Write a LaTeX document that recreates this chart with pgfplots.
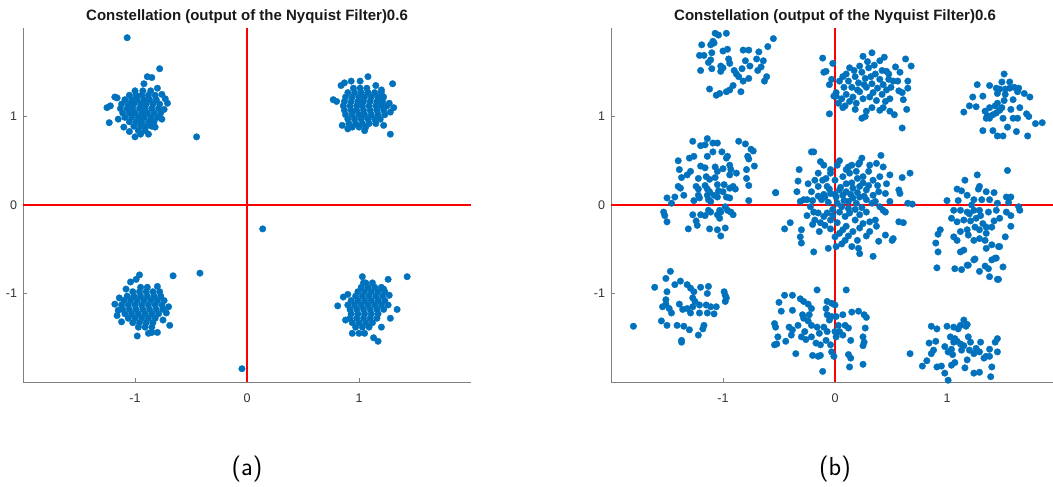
\documentclass[border=0pt]{standalone}
\usepackage{pgfplots}
\pgfplotsset{compat=1.18}
\usepackage{fontspec}
\setmainfont{Liberation Sans}
\definecolor{mblue}{RGB}{0,114,189}
\definecolor{axgray}{RGB}{128,128,128}
\definecolor{txtgray}{RGB}{50,50,50}
\pgfplotsset{
 constel/.style={
  scale only axis, width=448pt, height=354pt,
  xmin=-2,xmax=2,ymin=-2,ymax=2,
  axis x line=bottom, axis y line=left,
  axis line style={draw=axgray, line width=0.9pt, -},
  x axis line style={-}, y axis line style={-},
  xtick={-1,0,1}, ytick={-1,0,1},
  xticklabels={-1,0,1}, yticklabels={-1,0,1},
  tick align=inside, major tick length=4pt,
  tick style={draw=axgray, line width=0.9pt},
  ticklabel style={font=\fontsize{12.5}{14}\selectfont, text=txtgray},
  xticklabel style={yshift=-8pt},
  yticklabel style={xshift=-2.5pt},
  title style={at={(0.5,1)}, anchor=base, yshift=1.5pt, font=\bfseries\fontsize{15}{17}\selectfont, text=black!90},
  clip=false,
 },
 dots/.style={only marks, mark=*, mark size=3.3pt, color=mblue, mark options={solid, fill=mblue, draw=mblue, line width=0.3pt}},
 redl/.style={red, line width=2.8pt, no marks},
}
\begin{document}
\begin{tikzpicture}
\useasboundingbox (0,0) rectangle (1053pt,487pt);
% ---------------- (a)
\begin{axis}[constel, at={(23pt,105pt)}, anchor=south west,
  title={Constellation (output of the Nyquist Filter)0.6}]
\addplot[dots] coordinates {
(-1.00,1.29)(-0.93,1.29)(-0.86,1.29)
(-1.05,1.24)(-0.99,1.24)(-0.94,1.24)(-0.88,1.24)(-0.82,1.24)
(-1.09,1.19)(-1.03,1.19)(-0.98,1.19)(-0.92,1.19)(-0.87,1.19)(-0.81,1.19)
(-1.12,1.14)(-1.06,1.14)(-1.01,1.14)(-0.95,1.14)(-0.90,1.14)(-0.84,1.14)(-0.78,1.14)
(-1.13,1.09)(-1.07,1.09)(-1.02,1.09)(-0.96,1.09)(-0.91,1.09)(-0.85,1.09)(-0.79,1.09)
(-1.11,1.04)(-1.05,1.04)(-1.00,1.04)(-0.94,1.04)(-0.89,1.04)(-0.83,1.04)(-0.77,1.04)
(-1.09,0.99)(-1.03,0.99)(-0.97,0.99)(-0.92,0.99)(-0.86,0.99)(-0.80,0.99)
(-1.05,0.94)(-0.99,0.94)(-0.94,0.94)(-0.88,0.94)(-0.83,0.94)
(-1.01,0.89)(-0.95,0.89)(-0.90,0.89)(-0.85,0.89)
(-0.97,0.84)(-0.91,0.84)
(-1.22,1.12)(-1.25,1.10)(-1.18,1.22)(-1.16,1.21)(-1.23,0.93)(-1.00,0.77)(-0.95,0.80)(-1.05,0.83)
(-0.88,0.80)(-0.71,1.15)(-0.74,1.08)(-0.76,1.25)(-0.80,1.32)(-0.89,1.45)(-0.85,1.44)(-0.92,1.37)
(-0.78,1.54)(-0.45,0.77)(-1.07,1.89)(-1.15,0.97)(-0.76,0.97)(-1.10,0.88)(-0.73,1.20)(-0.82,0.88)
% TR
(0.95,1.32)(1.01,1.32)(1.07,1.32)
(0.90,1.27)(0.96,1.27)(1.02,1.27)(1.08,1.27)(1.14,1.27)(1.20,1.27)
(0.88,1.22)(0.94,1.22)(1.00,1.22)(1.05,1.22)(1.11,1.22)(1.17,1.22)(1.22,1.22)
(0.87,1.17)(0.93,1.17)(0.99,1.17)(1.04,1.17)(1.10,1.17)(1.16,1.17)(1.21,1.17)
(0.86,1.12)(0.92,1.12)(0.98,1.12)(1.03,1.12)(1.09,1.12)(1.15,1.12)(1.20,1.12)(1.25,1.12)
(0.87,1.07)(0.93,1.07)(0.98,1.07)(1.04,1.07)(1.10,1.07)(1.16,1.07)(1.22,1.07)
(0.88,1.02)(0.94,1.02)(1.00,1.02)(1.05,1.02)(1.11,1.02)(1.17,1.02)(1.23,1.02)
(0.90,0.97)(0.96,0.97)(1.02,0.97)(1.08,0.97)(1.14,0.97)(1.19,0.97)
(0.91,0.92)(0.97,0.92)(1.03,0.92)(1.09,0.92)(1.15,0.92)
(0.94,0.88)(1.00,0.88)(1.06,0.88)
(0.77,1.19)(0.80,1.17)(0.84,1.35)(0.87,1.38)(0.93,1.40)(1.08,1.45)(1.01,1.40)(1.30,1.37)
(1.28,0.80)(1.22,0.90)(1.28,1.05)(1.31,1.10)(1.27,1.15)(0.85,0.90)(0.90,0.86)(1.05,0.84)(1.20,1.30)(1.15,1.35)
% BL
(-0.95,-0.93)(-0.89,-0.93)
(-1.02,-0.98)(-0.96,-0.98)(-0.90,-0.98)(-0.84,-0.98)(-0.78,-0.98)
(-1.07,-1.03)(-1.01,-1.03)(-0.95,-1.03)(-0.89,-1.03)(-0.83,-1.03)(-0.77,-1.03)
(-1.10,-1.08)(-1.04,-1.08)(-0.98,-1.08)(-0.92,-1.08)(-0.86,-1.08)(-0.80,-1.08)(-0.74,-1.08)
(-1.12,-1.13)(-1.06,-1.13)(-1.00,-1.13)(-0.94,-1.13)(-0.88,-1.13)(-0.82,-1.13)(-0.76,-1.13)
(-1.11,-1.18)(-1.05,-1.18)(-0.99,-1.18)(-0.93,-1.18)(-0.87,-1.18)(-0.81,-1.18)(-0.75,-1.18)
(-1.09,-1.23)(-1.03,-1.23)(-0.97,-1.23)(-0.91,-1.23)(-0.85,-1.23)(-0.79,-1.23)
(-1.06,-1.28)(-1.00,-1.28)(-0.94,-1.28)(-0.88,-1.28)(-0.82,-1.28)
(-1.02,-1.33)(-0.96,-1.33)(-0.90,-1.33)(-0.84,-1.33)
(-0.97,-1.38)(-0.91,-1.38)(-0.85,-1.38)
(-0.66,-0.80)(-0.42,-0.77)(-0.96,-0.79)(-0.99,-0.84)(-1.04,-0.87)(-1.18,-1.12)(-1.15,-1.19)(-1.16,-1.25)
(-1.12,-1.32)(-0.98,-1.48)(-0.88,-1.45)(-0.85,-1.44)(-0.80,-1.44)(-0.69,-1.36)(-0.70,-1.15)(-0.72,-1.22)
(-0.75,-1.30)(-0.80,-0.92)(-1.08,-0.95)(-1.14,-1.05)
% BR
(1.06,-0.88)(1.12,-0.88)
(1.02,-0.93)(1.08,-0.93)(1.14,-0.93)(1.20,-0.93)
(0.99,-0.98)(1.05,-0.98)(1.11,-0.98)(1.17,-0.98)(1.23,-0.98)
(0.97,-1.03)(1.03,-1.03)(1.09,-1.03)(1.15,-1.03)(1.21,-1.03)
(0.93,-1.08)(0.99,-1.08)(1.05,-1.08)(1.11,-1.08)(1.17,-1.08)(1.23,-1.08)
(0.90,-1.13)(0.96,-1.13)(1.02,-1.13)(1.08,-1.13)(1.14,-1.13)(1.20,-1.13)(1.26,-1.13)
(0.92,-1.18)(0.98,-1.18)(1.04,-1.18)(1.10,-1.18)(1.16,-1.18)(1.22,-1.18)
(0.93,-1.23)(0.99,-1.23)(1.05,-1.23)(1.11,-1.23)(1.17,-1.23)
(0.92,-1.28)(0.98,-1.28)(1.04,-1.28)(1.10,-1.28)(1.16,-1.28)
(0.94,-1.33)(1.00,-1.33)(1.06,-1.33)(1.12,-1.33)
(0.97,-1.38)(1.03,-1.38)(1.09,-1.38)
(1.43,-0.81)(1.26,-0.84)(0.81,-1.14)(0.86,-1.04)(0.90,-1.01)(1.34,-1.18)(1.28,-1.28)(1.17,-1.54)
(1.13,-1.50)(0.94,-1.45)(1.03,-0.81)(1.04,-0.88)(1.00,-1.45)(1.05,-1.45)(1.22,-0.95)(1.27,-1.02)
(0.88,-1.30)(1.20,-1.38)
% singles
(0.14,-0.27)(-0.045,-1.85)
};
\addplot[redl] coordinates {(-2,0) (2,0)};
\addplot[redl] coordinates {(0,-2) (0,2)};
\end{axis}
% ---------------- (b)
\begin{axis}[constel, at={(611pt,105pt)}, anchor=south west,
  title={Constellation (output of the Nyquist Filter)0.6}]
\addplot[dots] coordinates {
% top-left
(-1.07,1.94)(-1.04,1.92)(-0.97,1.94)(-1.09,1.85)(-1.19,1.81)(-1.11,1.81)(-1.08,1.83)(-0.60,1.79)
(-0.55,1.88)(-1.00,1.74)(-0.96,1.76)(-0.82,1.75)(-0.77,1.75)(-0.68,1.73)(-1.21,1.69)(-1.17,1.69)
(-1.10,1.72)(-1.11,1.64)(-1.13,1.61)(-0.95,1.65)(-0.94,1.60)(-0.80,1.63)(-0.70,1.65)(-0.64,1.63)
(-1.20,1.52)(-1.10,1.54)(-1.02,1.57)(-1.02,1.51)(-1.00,1.55)(-0.90,1.52)(-0.88,1.48)(-0.83,1.54)
(-0.76,1.57)(-0.69,1.52)(-0.66,1.56)(-0.86,1.45)(-0.77,1.43)(-0.82,1.40)(-0.61,1.45)(-0.63,1.40)
(-1.12,1.31)(-0.91,1.35)(-0.97,1.28)(-0.94,1.30)(-1.06,1.24)(-1.03,1.26)(-0.84,1.28)
% top-middle
(-0.11,1.66)(-0.02,1.60)(-0.10,1.50)(-0.08,1.51)(-0.03,1.42)(-0.05,1.36)(-0.01,1.23)(-0.05,1.03)
(0.25,1.68)(0.33,1.72)(0.44,1.67)(0.40,1.63)(0.63,1.65)(0.68,1.57)(0.54,1.56)(0.13,1.55)
(0.07,1.45)(0.46,1.51)(0.48,1.42)(0.65,1.40)(0.65,1.32)(0.57,1.29)(0.60,1.27)(0.61,1.19)
(0.49,1.20)(0.64,1.08)(0.60,0.87)(0.53,1.02)(0.49,1.06)(0.43,1.10)(0.40,1.07)(0.33,1.10)
(0.27,1.00)(0.24,0.98)(0.28,1.06)(0.18,1.08)(0.09,1.12)(0.07,1.10)(0.03,1.15)(0.01,1.23)(0.01,1.27)
(0.12,1.40)(0.18,1.45)(0.24,1.50)(0.30,1.55)(0.36,1.48)(0.40,1.42)(0.15,1.33)(0.21,1.38)
(0.27,1.43)(0.33,1.37)(0.38,1.32)(0.43,1.36)(0.10,1.25)(0.16,1.22)(0.22,1.28)(0.28,1.33)
(0.34,1.27)(0.42,1.25)(0.46,1.30)(0.13,1.17)(0.19,1.15)(0.25,1.20)(0.31,1.22)(0.37,1.18)
(0.45,1.17)(0.08,1.33)(0.20,1.30)(0.26,1.36)(0.32,1.45)(0.35,1.58)(0.29,1.62)(0.22,1.57)
(0.17,1.52)(0.42,1.52)(0.48,1.48)(0.52,1.40)(0.50,1.33)(0.56,1.40)(0.58,1.50)(0.06,1.20)
(0.04,1.40)(0.10,1.48)
% top-right
(1.51,1.48)(1.49,1.39)(1.56,1.39)(1.27,1.36)(1.38,1.35)(1.44,1.32)(1.47,1.31)(1.52,1.31)
(1.56,1.32)(1.60,1.33)(1.64,1.32)(1.63,1.28)(1.23,1.22)(1.32,1.23)(1.45,1.26)(1.52,1.25)
(1.69,1.26)(1.74,1.22)(1.59,1.19)(1.51,1.18)(1.45,1.15)(1.43,1.12)(1.38,1.10)(1.49,1.10)
(1.57,1.08)(1.65,1.10)(1.20,1.12)(1.26,1.11)(1.15,1.05)(1.34,1.06)(1.36,1.01)(1.38,0.98)
(1.41,1.02)(1.44,1.04)(1.47,1.07)(1.50,0.98)(1.59,0.98)(1.63,0.98)(1.71,1.03)(1.73,1.00)
(1.79,0.92)(1.85,0.93)(1.32,0.84)(1.41,0.84)(1.54,0.88)(1.62,0.83)(1.45,0.78)(1.50,0.78)
(1.72,0.78)(1.35,0.98)
% middle-left
(-1.27,0.72)(-1.14,0.75)(-1.09,0.70)(-1.05,0.70)(-1.20,0.67)(-1.16,0.68)(-0.86,0.72)(-0.80,0.69)
(-0.75,0.63)(-0.73,0.61)(-1.30,0.53)(-1.26,0.55)(-1.14,0.55)(-1.09,0.60)(-1.01,0.60)(-0.96,0.55)
(-0.97,0.53)(-1.40,0.50)(-1.20,0.44)(-0.78,0.55)(-0.77,0.52)(-0.72,0.44)(-1.39,0.40)(-1.29,0.38)
(-1.32,0.34)(-1.37,0.31)(-1.16,0.42)(-1.07,0.43)(-1.05,0.38)(-1.07,0.31)(-1.00,0.41)(-0.94,0.45)
(-0.93,0.40)(-0.94,0.34)(-0.88,0.36)(-0.79,0.40)(-0.79,0.30)(-1.22,0.30)(-1.15,0.32)(-1.12,0.29)
(-1.05,0.23)(-0.77,0.22)(-1.40,0.21)(-1.38,0.19)(-1.35,0.11)(-1.24,0.21)(-1.22,0.18)(-1.16,0.22)
(-1.14,0.18)(-1.12,0.15)(-1.14,0.11)(-1.08,0.11)(-1.05,0.09)(-0.99,0.23)(-0.94,0.19)(-0.91,0.21)
(-0.89,0.18)(-1.00,0.15)(-1.04,0.16)(-1.22,0.11)(-1.21,0.08)(-1.50,0.08)(-1.46,0.02)(-1.43,0.09)
(-0.97,0.09)(-0.94,0.08)(-1.26,0.05)(-0.77,0.05)(-1.13,0.06)(-1.11,0.04)(-0.53,0.14)
(-1.53,-0.08)(-1.52,-0.12)(-1.50,-0.19)(-1.27,-0.11)(-1.20,-0.11)(-1.16,-0.12)(-1.24,-0.18)(-1.23,-0.23)
(-1.03,-0.06)(-1.02,-0.08)(-1.05,-0.11)(-0.98,-0.02)(-0.96,-0.06)(-0.93,-0.08)(-0.91,-0.11)(-1.03,-0.15)
(-1.13,-0.06)(-1.11,-0.08)(-1.31,-0.27)(-1.12,-0.27)(-1.05,-0.28)(-0.98,-0.26)(-1.02,-0.35)
% middle-center
(-0.21,0.60)(-0.19,0.60)(0.04,0.50)(0.02,0.45)(0.12,0.43)(-0.13,0.49)(-0.10,0.45)(-0.04,0.40)
(-0.04,0.36)(0.22,0.48)(0.21,0.46)(0.24,0.53)(0.31,0.45)(0.37,0.47)(0.41,0.56)(0.43,0.43)
(-0.32,0.40)(-0.33,0.27)(-0.24,0.24)(0.49,0.34)(0.60,0.31)(0.67,0.36)(-0.15,0.36)(-0.11,0.28)
(-0.15,0.21)(0.07,0.32)(0.13,0.36)(0.19,0.38)(0.25,0.32)(0.34,0.28)(0.40,0.32)(0.46,0.24)
(0.10,0.24)(0.16,0.19)(0.22,0.21)(0.28,0.17)(0.04,0.17)(0.07,0.11)(0.01,0.09)(-0.07,0.21)
(-0.04,0.13)(-0.09,0.09)(-0.12,0.06)(-0.21,0.15)(-0.25,0.06)(-0.34,0.15)(-0.53,0.14)(-0.31,0.04)
(-0.28,0.06)(0.34,0.11)(0.39,0.15)(0.45,0.13)(0.36,0.04)(0.57,0.17)(0.58,0.13)(0.49,0.04)
(0.65,0.02)(0.69,0.01)(0.16,0.08)(0.22,0.09)(0.28,0.06)(0.19,0.02)(0.12,0.04)(0.43,-0.06)
(0.45,-0.08)(-0.19,-0.08)(-0.15,-0.09)(-0.10,-0.13)(-0.18,-0.17)(-0.13,-0.20)(-0.07,-0.09)(-0.04,-0.17)
(-0.09,-0.23)(-0.04,-0.27)(0.04,-0.08)(0.09,-0.13)(0.13,-0.09)(0.18,-0.17)(0.22,-0.11)(0.25,-0.21)
(0.10,-0.24)(0.16,-0.30)(0.22,-0.26)(0.31,-0.19)(0.36,-0.17)(0.37,-0.24)(0.31,-0.30)(0.04,-0.32)
(0.00,-0.36)(0.09,-0.40)(-0.40,-0.20)(-0.45,-0.27)(-0.30,-0.28)(-0.31,-0.36)(-0.30,-0.43)(-0.19,-0.53)
(-0.06,-0.49)(0.15,-0.47)(0.22,-0.55)(0.21,-0.49)(0.34,-0.58)(0.52,-0.38)(0.51,-0.40)(0.45,-0.34)
(0.39,-0.41)(0.57,-0.19)(0.61,-0.20)(0.01,-0.47)(0.06,-0.44)
(0.05,0.20)(0.10,0.15)(0.15,0.25)(0.20,0.30)(0.25,0.25)(0.30,0.22)(0.02,0.02)(0.06,-0.02)
(0.12,-0.04)(0.18,-0.05)(0.24,-0.03)(0.28,-0.08)(-0.02,-0.05)(-0.06,0.03)(-0.10,0.12)(-0.15,0.10)
(-0.20,0.05)(-0.22,-0.02)(-0.18,0.28)(-0.08,0.30)(0.00,0.28)(0.08,0.05)(0.14,0.12)(0.20,0.14)
(0.26,0.10)(0.33,0.02)(0.40,-0.02)(0.38,0.22)(0.30,0.38)(0.15,0.45)(-0.25,-0.12)(-0.20,-0.22)
(-0.14,-0.30)(0.02,-0.20)(0.07,-0.28)(0.12,-0.35)(0.20,-0.40)(0.28,-0.35)(-0.02,-0.12)(0.00,0.12)
(0.10,0.40)(-0.05,0.18)
% middle-right
(1.54,0.39)(1.27,0.34)(1.16,0.28)(1.29,0.21)(1.28,0.18)(1.09,0.18)(1.13,0.16)(1.42,0.14)
(1.53,0.09)(1.57,0.09)(1.00,0.05)(1.18,0.11)(1.24,0.06)(1.31,0.06)(1.38,0.06)(1.55,0.03)
(1.64,-0.02)(1.65,-0.06)(1.06,-0.06)(1.12,-0.06)(1.18,-0.08)(1.24,-0.06)(1.29,-0.06)(1.37,-0.08)
(1.44,-0.06)(1.04,-0.15)(1.09,-0.19)(1.15,-0.17)(1.21,-0.18)(1.26,-0.15)(1.32,-0.21)(1.35,-0.25)
(1.29,-0.28)(1.40,-0.25)(1.47,-0.15)(1.53,-0.08)(1.57,-0.12)(1.57,-0.24)(1.52,-0.36)(1.47,-0.47)
(0.94,-0.28)(0.92,-0.33)(0.90,-0.43)(0.92,-0.53)(1.06,-0.36)(1.09,-0.40)(1.12,-0.53)(1.15,-0.51)
(1.19,-0.34)(1.24,-0.40)(1.29,-0.38)(1.34,-0.40)(1.35,-0.49)(1.40,-0.45)(1.46,-0.47)(1.25,-0.61)
(1.19,-0.68)(0.91,-0.71)(1.07,-0.72)(1.13,-0.73)(1.29,-0.75)(1.34,-0.69)(1.37,-0.72)(1.38,-0.81)
(1.45,-0.84)(1.44,-0.60)(1.50,-0.70)(1.18,-0.68)(1.24,-0.62)(1.40,-0.62)(1.43,-0.60)(1.46,-0.84)
(1.20,-0.10)(1.25,-0.25)(1.30,-0.12)(1.18,-0.28)(1.12,-0.30)(1.35,-0.32)(1.42,-0.18)(1.22,0.00)
(1.10,0.05)(1.35,0.15)(1.45,0.02)
% bottom-left
(-1.47,-0.75)(-1.51,-0.83)(-1.61,-0.93)(-1.50,-0.98)(-1.43,-0.90)(-1.38,-0.86)(-1.32,-0.90)(-1.29,-0.94)
(-1.26,-0.98)(-1.20,-0.93)(-1.13,-0.92)(-1.14,-1.00)(-0.99,-0.98)(-0.98,-1.02)(-0.97,-1.05)(-0.98,-1.09)
(-1.51,-1.07)(-1.51,-1.12)(-1.39,-1.12)(-1.54,-1.15)(-1.48,-1.17)(-1.27,-1.05)(-1.25,-1.09)(-1.27,-1.15)
(-1.32,-1.17)(-1.36,-1.18)(-1.21,-1.13)(-1.15,-1.13)(-1.11,-1.15)(-1.06,-1.15)(-1.46,-1.22)(-1.29,-1.22)
(-1.21,-1.22)(-1.14,-1.22)(-1.08,-1.23)(-1.80,-1.37)(-1.55,-1.31)(-1.50,-1.36)(-1.41,-1.36)(-1.35,-1.37)
(-1.30,-1.41)(-1.17,-1.36)(-1.18,-1.40)(-1.22,-1.47)(-1.37,-1.53)(-1.37,-1.55)
% bottom-middle
(-0.45,-1.02)(-0.38,-1.02)(-0.31,-1.06)(-0.28,-1.09)(-0.24,-1.12)(-0.21,-1.17)(-0.50,-1.10)(-0.16,-0.96)
(-0.38,-1.19)(-0.48,-1.20)(-0.29,-1.24)(-0.23,-1.24)(-0.28,-1.28)(-0.24,-1.31)(-0.21,-1.36)(-0.33,-1.36)
(-0.38,-1.41)(-0.54,-1.34)(-0.53,-1.38)(-0.41,-1.38)(-0.39,-1.47)(-0.44,-1.54)(-0.51,-1.49)(-0.54,-1.58)
(-0.52,-1.57)(-0.35,-1.68)(-0.16,-1.38)(-0.14,-1.45)(-0.10,-1.38)(-0.07,-1.43)(-0.17,-1.56)(-0.13,-1.58)
(-0.08,-1.53)(-0.20,-1.70)(-0.15,-1.71)(-0.13,-1.70)(-0.11,-1.88)(-0.07,-1.09)(-0.08,-1.17)(-0.07,-1.24)
(-0.05,-1.30)(-0.27,-1.43)(-0.30,-1.49)(-0.26,-1.52)(-0.21,-1.49)
(0.10,-0.96)(-0.03,-1.11)(0.00,-1.13)(0.07,-1.24)(0.01,-1.26)(-0.03,-1.26)(0.15,-1.21)(0.21,-1.20)
(0.26,-1.24)(0.28,-1.27)(0.09,-1.36)(0.12,-1.39)(0.04,-1.43)(0.07,-1.47)(0.01,-1.49)(0.27,-1.39)
(0.25,-1.49)(0.26,-1.55)(0.25,-1.59)(0.14,-1.53)(0.12,-1.69)(0.14,-1.73)(0.13,-1.83)(0.25,-1.80)
(-0.04,-1.58)(-0.03,-1.66)(-0.01,-1.71)(0.00,-1.43)(0.03,-1.36)
% bottom-right
(0.67,-1.68)(0.86,-1.37)(0.91,-1.40)(1.00,-1.37)(1.06,-1.38)(1.12,-1.36)(1.15,-1.30)(1.18,-1.35)
(1.10,-1.40)(0.84,-1.56)(0.90,-1.54)(0.88,-1.64)(0.86,-1.68)(0.82,-1.76)(0.78,-1.82)(0.91,-1.83)
(0.95,-1.82)(0.98,-1.90)(1.01,-1.98)(0.98,-1.60)(1.01,-1.66)(1.04,-1.63)(1.03,-1.49)(1.07,-1.51)
(1.06,-1.55)(1.09,-1.54)(1.05,-1.69)(1.07,-1.78)(1.04,-1.81)(1.12,-1.57)(1.15,-1.59)(1.13,-1.64)
(1.19,-1.49)(1.21,-1.55)(1.18,-1.75)(1.16,-1.84)(1.24,-1.90)(1.29,-1.89)(1.20,-1.64)(1.24,-1.68)
(1.29,-1.66)(1.30,-1.55)(1.26,-1.62)(1.33,-1.73)(1.35,-1.71)(1.38,-1.71)(1.38,-1.63)(1.45,-1.66)
(1.43,-1.55)(1.45,-1.51)(1.40,-1.83)(1.39,-1.94)(1.17,-1.37)
};
\addplot[redl] coordinates {(-2,0) (2,0)};
\addplot[redl] coordinates {(0,-2) (0,2)};
\end{axis}
\node[font=\sffamily\fontsize{26}{30}\selectfont] at (247pt,18pt) {(a)};
\node[font=\sffamily\fontsize{26}{30}\selectfont] at (835pt,18pt) {(b)};
\end{tikzpicture}
\end{document}
